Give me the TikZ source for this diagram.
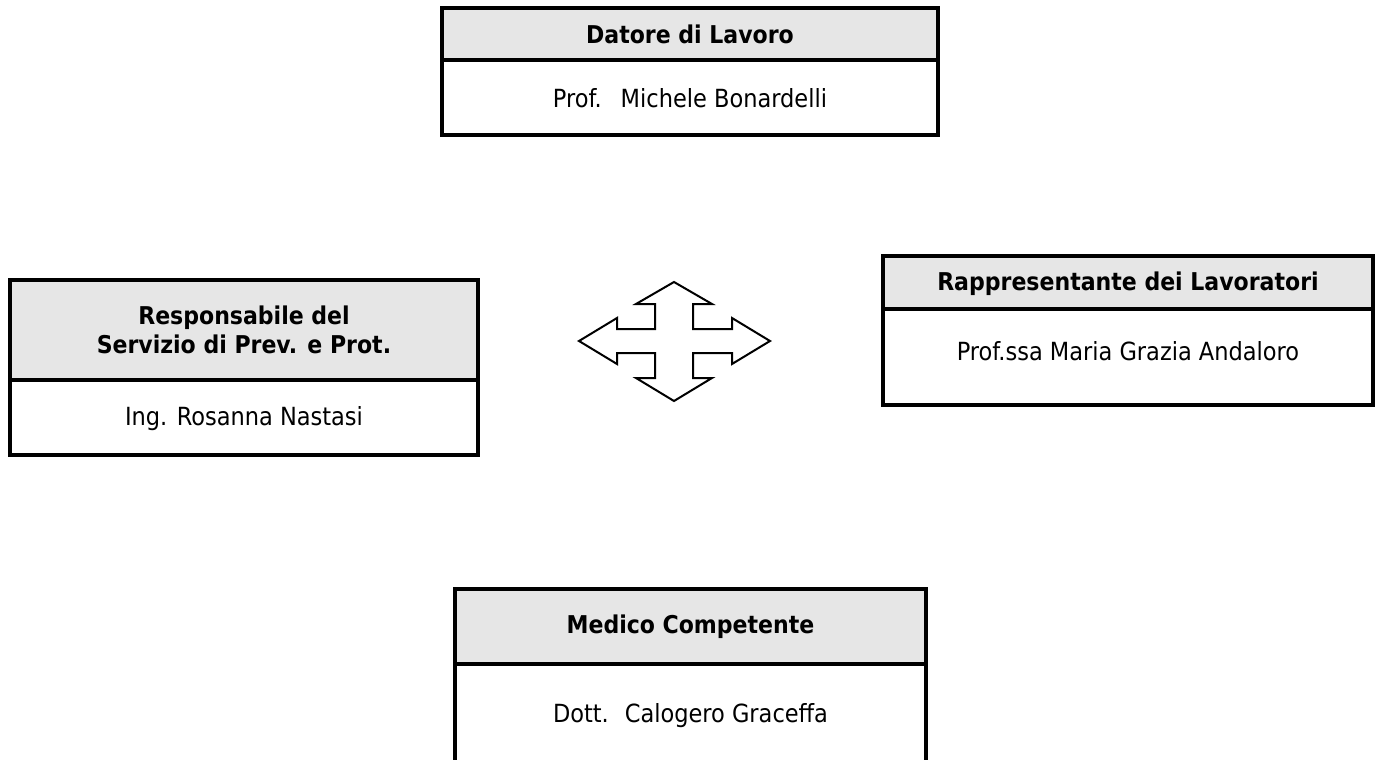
\documentclass[tikz,border=0pt]{standalone}
\usepackage{fontspec}
\setmainfont{DejaVu Sans Condensed}
\definecolor{hdrgray}{RGB}{230,230,230}
\begin{document}
\begin{tikzpicture}[x=1pt,y=-1pt,
  boxline/.style={draw=black, line width=4pt},
  hdr/.style={boxline, fill=hdrgray, inner sep=0pt},
  bodybox/.style={boxline, fill=white, inner sep=0pt},
  htext/.style={font=\fontsize{24.5}{29}\selectfont\bfseries, anchor=base, inner sep=0pt},
  btext/.style={font=\fontsize{25}{29}\selectfont, anchor=base, inner sep=0pt},
  cross/.style={draw=black, line width=2pt, fill=white, line join=miter}]
\useasboundingbox (0,0) rectangle (1381,760);
% Datore di Lavoro
\node[bodybox, minimum width=496pt, minimum height=75pt] (datB) at (690,97.5) {};
\node[hdr, minimum width=496pt, minimum height=52pt] (datH) at (690,34) {};
\node[htext] (datHt) at (690,44) {Datore di Lavoro};
\node[btext] (datBt) at (690,107) {Prof.\hspace{19pt}Michele Bonardelli};
% Responsabile
\node[bodybox, minimum width=468pt, minimum height=75pt] (rspB) at (244,417.5) {};
\node[hdr, minimum width=468pt, minimum height=100pt] (rspH) at (244,330) {};
\node[htext] (rspHa) at (244,324) {Responsabile del};
\node[htext] (rspHb) at (244,353) {Servizio di Prev. e Prot.};
\node[btext] (rspBt) at (244,425) {Ing. Rosanna Nastasi};
% Rappresentante
\node[bodybox, minimum width=490pt, minimum height=96pt] (rapB) at (1128,357) {};
\node[hdr, minimum width=490pt, minimum height=53pt] (rapH) at (1128,282.5) {};
\node[htext] (rapHt) at (1128,290) {Rappresentante dei Lavoratori};
\node[btext] (rapBt) at (1128,360) {Prof.ssa Maria Grazia Andaloro};
% Medico
\node[bodybox, minimum width=471pt, minimum height=140pt] (medB) at (690.5,734) {};
\node[hdr, minimum width=471pt, minimum height=75pt] (medH) at (690.5,626.5) {};
\node[htext] (medHt) at (690.5,633) {Medico Competente};
\node[btext] (medBt) at (690.5,722) {Dott.\hspace{16pt}Calogero Graceffa};
% four-way arrow
\begin{scope}[shift={(674,341)}]
\draw[cross] (0,-59) -- (38,-37) -- (19,-37) -- (19,-12) -- (58,-12) -- (58,-23)
  -- (96,0) -- (58,23) -- (58,12) -- (19,12) -- (19,37) -- (38,37) -- (0,60)
  -- (-38,37) -- (-19,37) -- (-19,12) -- (-57,12) -- (-57,23) -- (-95,0)
  -- (-57,-23) -- (-57,-12) -- (-19,-12) -- (-19,-37) -- (-38,-37) -- cycle;
\end{scope}
\end{tikzpicture}
\end{document}
